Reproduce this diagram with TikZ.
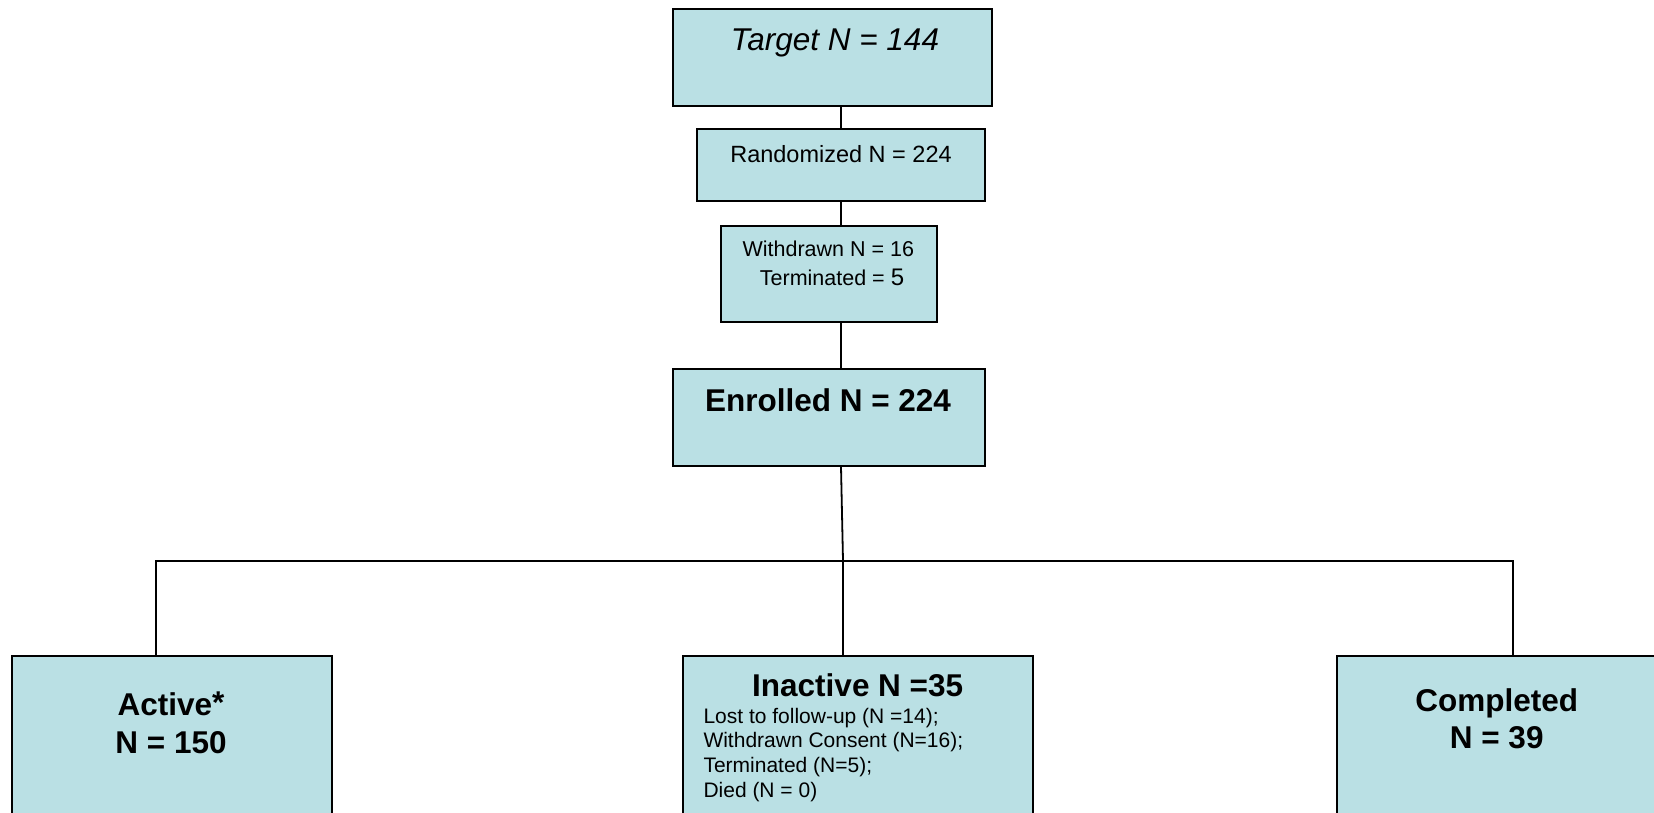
\documentclass[tikz,border=0pt]{standalone}
\usepackage{fontspec}
\setmainfont{Liberation Sans}
\definecolor{boxfill}{RGB}{186,224,228}
\begin{document}
\begin{tikzpicture}[x=1pt,y=-1pt,
  box/.style={draw=black, fill=boxfill, line width=2pt, rectangle, inner sep=0pt},
  conn/.style={draw=black, line width=1.8pt},
  txt/.style={inner sep=0pt, anchor=base},
  ltxt/.style={inner sep=0pt, anchor=base west, font=\fontsize{21}{25}\selectfont},
  bigb/.style={font=\fontsize{31.5}{36}\selectfont\bfseries}]
\useasboundingbox (0,0) rectangle (1654,812);
\clip (0,0) rectangle (1654,812);
% boxes
\node[box, minimum width=319.6pt, minimum height=96.4pt] (target) at (832.5,57.5) {};
\node[box, minimum width=288.3pt, minimum height=72pt] (rand) at (840.85,165.3) {};
\node[box, minimum width=216pt, minimum height=96pt] (withd) at (828.7,273.7) {};
\node[box, minimum width=312.3pt, minimum height=96.4pt] (enrol) at (828.85,417.5) {};
\node[box, minimum width=320pt, minimum height=244pt] (active) at (171.7,778) {};
\node[box, minimum width=350.6pt, minimum height=244pt] (inactive) at (858,778) {};
\node[box, minimum width=343.3pt, minimum height=244pt] (completed) at (1508.35,778) {};
% connector coordinates
\coordinate (cx) at (841,0);
\coordinate (j) at (843,560.7);
\coordinate (la) at (155.7,560.7);
\coordinate (lc) at (1513.3,560.7);
% connectors
\draw[conn] (target.south -| cx) -- (rand.north -| cx);
\draw[conn] (rand.south -| cx) -- (withd.north -| cx);
\draw[conn] (withd.south -| cx) -- (enrol.north -| cx);
\draw[conn] (enrol.south -| cx) -- (j);
\draw[conn] (j) -- (inactive.north -| j);
\draw[conn] (active.north -| la) -- (la) -- (lc) -- (completed.north -| lc);
% texts
\node[txt, font=\fontsize{31.5}{36}\selectfont\itshape] (ttarget) at (835,50) {Target N = 144};
\node[txt, font=\fontsize{23.5}{27}\selectfont] (trand) at (841,162) {Randomized N = 224};
\node[txt, font=\fontsize{21.5}{25}\selectfont] (tw1) at (828.3,256.7) {Withdrawn N = 16};
\node[txt, font=\fontsize{21.5}{25}\selectfont] (tw2) at (832,285) {Terminated = {\fontsize{24}{28}\selectfont 5}};
\node[txt, bigb] (tenrol) at (828,411) {Enrolled N = 224};
\node[txt, bigb] (tact1) at (171,715) {Active\raisebox{2pt}{*}};
\node[txt, bigb] (tact2) at (171,753.3) {N = 150};
\node[txt, bigb] (tinact) at (857.7,696) {Inactive N =35};
\node[ltxt] (ti1) at (703.3,723.3) {Lost to follow-up (N =14);};
\node[ltxt] (ti2) at (703.3,747.8) {Withdrawn Consent (N=16);};
\node[ltxt] (ti3) at (703.3,772.3) {Terminated (N=5);};
\node[ltxt] (ti4) at (703.3,797.3) {Died (N = 0)};
\node[txt, bigb] (tcomp1) at (1496.7,711.7) {Completed};
\node[txt, bigb] (tcomp2) at (1496.7,748.3) {N = 39};
\end{tikzpicture}
\end{document}
